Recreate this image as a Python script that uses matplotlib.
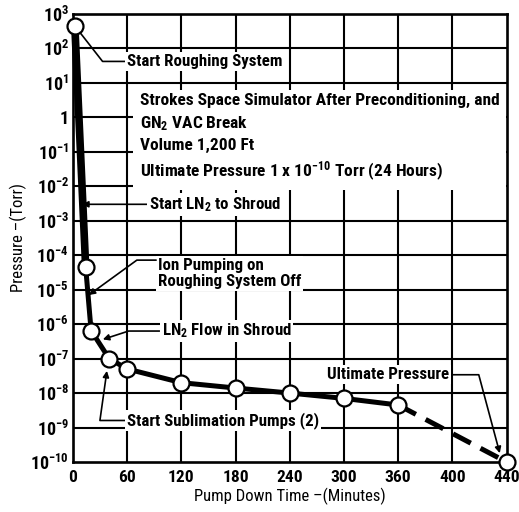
import numpy as np
import matplotlib
matplotlib.use("Agg")
import matplotlib.pyplot as plt
from matplotlib import font_manager

# --- data ---
time_min = [2, 14, 20, 40, 60, 120, 180, 240, 300, 360]
pressure = [450, 4.5e-5, 6.5e-7, 1.0e-7, 5.0e-8, 2.0e-8, 1.4e-8, 1.0e-8, 7.0e-9, 4.5e-9]
ext_time = [360, 440]          # dashed extrapolation to ultimate pressure
ext_pressure = [4.5e-9, 1.0e-10]

x_ticks = [0, 60, 120, 180, 240, 300, 360, 400, 440]
y_ticks = [1e3, 1e2, 1e1, 1, 1e-1, 1e-2, 1e-3, 1e-4, 1e-5, 1e-6, 1e-7, 1e-8, 1e-9, 1e-10]
y_labels = ["$10^{3}$", "$10^{2}$", "$10^{1}$", "1", "$10^{-1}$", "$10^{-2}$", "$10^{-3}$",
            "$10^{-4}$", "$10^{-5}$", "$10^{-6}$", "$10^{-7}$", "$10^{-8}$", "$10^{-9}$",
            "$10^{-10}$"]

# pick a narrow font if one is around
names = {f.name for f in font_manager.fontManager.ttflist}
stretch = "normal"
family = "DejaVu Sans"
for cand in ["Liberation Sans Narrow", "Roboto Condensed", "Open Sans Condensed"]:
    if cand in names:
        family = cand
        break
else:
    if any(f.name == "DejaVu Sans" and str(f.stretch) == "condensed"
           for f in font_manager.fontManager.ttflist):
        stretch = "condensed"

plt.rcParams["font.family"] = [family, "DejaVu Sans"]
plt.rcParams["font.weight"] = "bold"
plt.rcParams["font.stretch"] = stretch
plt.rcParams["mathtext.default"] = "regular"

fig = plt.figure(figsize=(5.19, 5.12), dpi=100)
ax = fig.add_axes([0.1407, 0.0977, 0.8353, 0.875])

# the time axis of the original is evenly spaced per tick, not linear
tick_pos = np.arange(len(x_ticks))
def fwd(x):
    return np.interp(x, x_ticks, tick_pos)
def inv(u):
    return np.interp(u, tick_pos, x_ticks)
ax.set_xscale("function", functions=(fwd, inv))
ax.set_yscale("log")
ax.set_xlim(0, 440)
ax.set_ylim(1e-10, 1e3)

ax.set_xticks(x_ticks)
ax.set_xticklabels([str(t) for t in x_ticks])
ax.set_yticks(y_ticks)
ax.set_yticklabels(y_labels)
ax.minorticks_off()
ax.tick_params(axis="x", length=0, labelsize=12.5, pad=6)
ax.tick_params(axis="y", length=0, labelsize=13, pad=3)
for s in ax.spines.values():
    s.set_linewidth(1.9)

# grid drawn by hand at every tick
for t in x_ticks[1:-1]:
    ax.axvline(t, color="black", lw=1.5, zorder=2)
for p in y_ticks[1:-1]:
    ax.axhline(p, color="black", lw=1.5, zorder=2)

ax.set_xlabel("Pump Down Time \u2013(Minutes)", fontsize=12, labelpad=2)
ax.set_ylabel("Pressure \u2013(Torr)", fontsize=12, labelpad=2)

# curve
ax.plot(time_min[:2], pressure[:2], color="black", lw=5.5, clip_on=False, zorder=3,
        solid_capstyle="butt")
ax.plot(time_min, pressure, color="black", lw=3.6, clip_on=False, zorder=3)
ax.plot(ext_time, ext_pressure, color="black", lw=3.6, ls=(0, (4, 2.2)), clip_on=False,
        zorder=3)
ax.plot(time_min + ext_time[1:], pressure + ext_pressure[1:], ls="none", marker="o", ms=11.5,
        mfc="white", mec="black", mew=1.6, clip_on=False, zorder=4)

fs = 12.2
box = dict(facecolor="white", edgecolor="none", pad=1.5)
arrow = dict(arrowstyle="-|>", color="black", lw=1.2, mutation_scale=9, shrinkA=0, shrinkB=0)

ax.annotate("Start Roughing System", xy=(2, 450), xytext=(60, 42), fontsize=fs,
            ha="left", va="center", bbox=box, zorder=5,
            arrowprops=dict(arrowstyle="-", color="black", lw=1.2, shrinkA=0, shrinkB=6,
                            connectionstyle="angle,angleA=180,angleB=128,rad=0"))

ax.text(74, 5.0, "Strokes Space Simulator After Preconditioning, and\nGN$_2$ VAC Break\n"
        "Volume 1,200 Ft\nUltimate Pressure 1 x 10$^{-10}$ Torr (24 Hours)",
        fontsize=12.5, ha="left", va="top", linespacing=1.42, zorder=5,
        bbox=dict(facecolor="white", edgecolor="none", pad=5))

ax.annotate("Start LN$_2$ to Shroud", xy=(10, 3.0e-3), xytext=(84, 3.0e-3), fontsize=fs,
            ha="left", va="center", bbox=box, zorder=5,
            arrowprops=dict(arrow, connectionstyle="arc3"))

ax.text(94, 3.0e-5, "Ion Pumping on\nRoughing System Off", fontsize=fs, ha="left",
        va="center", linespacing=1.05, bbox=box, zorder=5)
ax.annotate("", xy=(17.5, 7e-6), xytext=(92, 7.2e-5), zorder=5,
            arrowprops=dict(arrow, connectionstyle="angle,angleA=180,angleB=36,rad=0"))

ax.annotate("LN$_2$ Flow in Shroud", xy=(33, 3.6e-7), xytext=(98, 6.3e-7), fontsize=fs,
            ha="left", va="center", bbox=box, zorder=5,
            arrowprops=dict(arrow, connectionstyle="angle,angleA=180,angleB=18,rad=0"))

ax.annotate("Start Sublimation Pumps (2)", xy=(37.5, 4.4e-8), xytext=(60, 1.6e-9),
            fontsize=fs, ha="left", va="center", bbox=box, zorder=5,
            arrowprops=dict(arrow, connectionstyle="angle,angleA=180,angleB=82,rad=0"))

ax.annotate("Ultimate Pressure", xy=(435, 1.8e-10), xytext=(281, 3.4e-8), fontsize=fs,
            ha="left", va="center", bbox=box, zorder=5,
            arrowprops=dict(arrow, connectionstyle="angle,angleA=0,angleB=105,rad=0"))

fig.savefig("out.png", dpi=100)
